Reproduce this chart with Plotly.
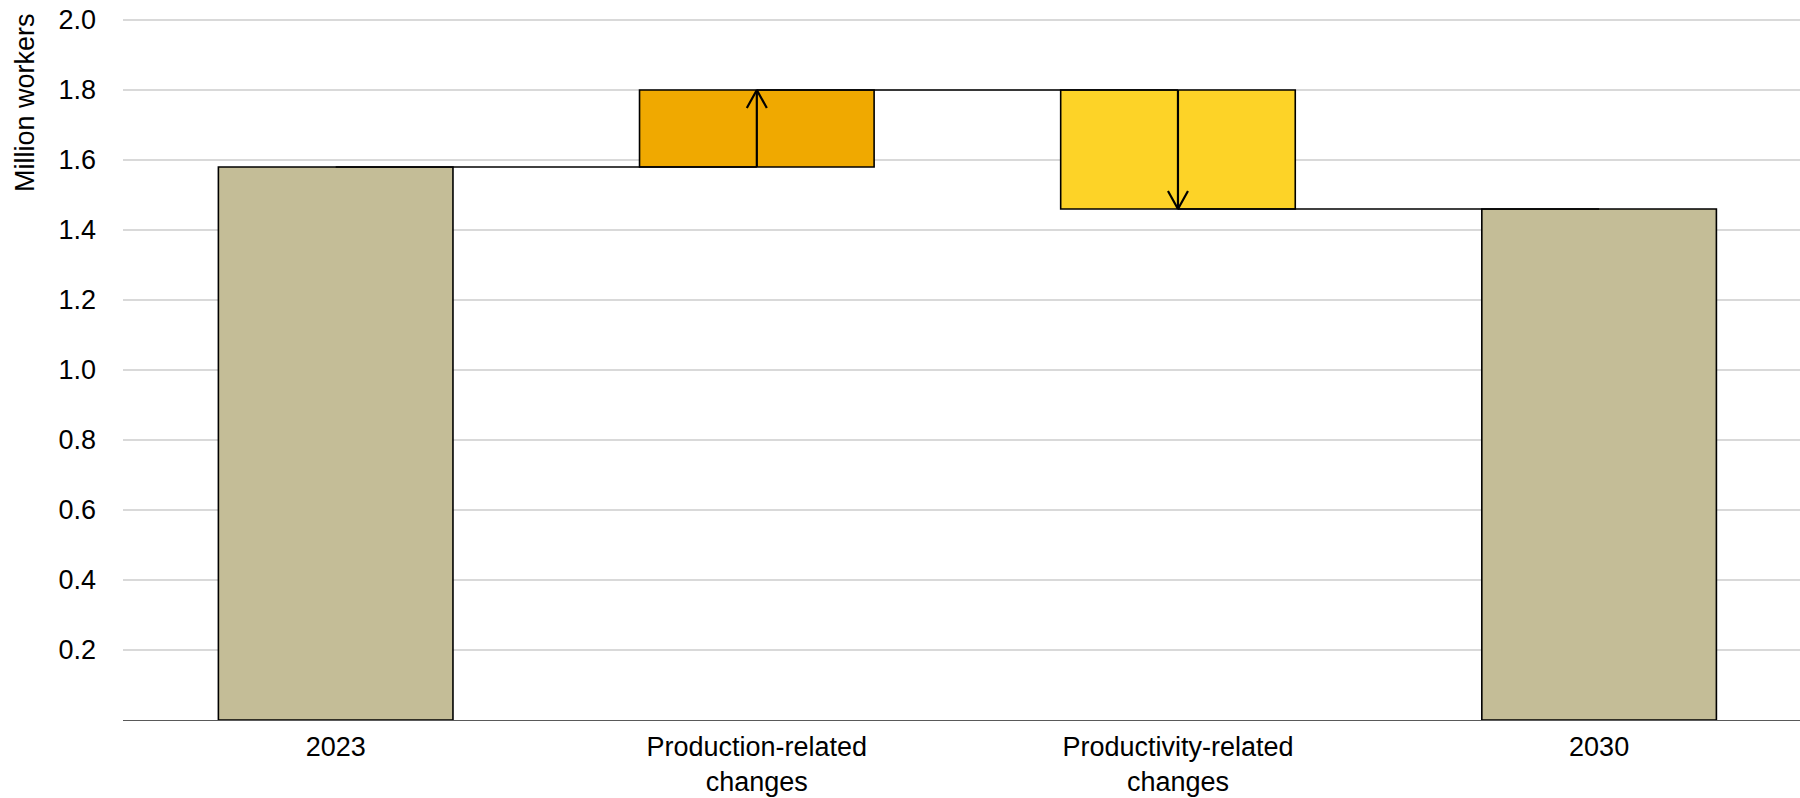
import plotly.graph_objects as go

# ---- data ----
categories = ["2023", "Production-related<br>changes", "Productivity-related<br>changes", "2030"]
measures = ["absolute", "relative", "relative", "total"]
values = [1.58, 0.22, -0.34, 1.46]
bar_colors = ["#C4BD97", "#F0A900", "#FDD327", "#C4BD97"]
y_tick_values = [0.2, 0.4, 0.6, 0.8, 1.0, 1.2, 1.4, 1.6, 1.8, 2.0]
y_tick_labels = ["0.2", "0.4", "0.6", "0.8", "1.0", "1.2", "1.4", "1.6", "1.8", "2.0"]
y_title = "Million workers"

# ---- layout constants (body margin removed by post_script) ----
W, H = 1800, 798
M_L, M_R, M_T, M_B = 123, 0, 17, 78
X_RANGE = [-0.505, 3.477]
Y_RANGE = [0, 2.0 + 3 / 350]
FONT = "Liberation Sans, Arial, sans-serif"
FS = 27
BAR_WIDTH = 0.557

plot_w = W - M_L - M_R
plot_h = H - M_T - M_B
px_per_x = plot_w / (X_RANGE[1] - X_RANGE[0])
px_per_y = plot_h / (Y_RANGE[1] - Y_RANGE[0])
head_hw = 10 / px_per_x
head_h = 18 / px_per_y

# ---- compute floating bars ----
bases, heights, levels_after, levels_before = [], [], [], []
level = 0.0
for m, v in zip(measures, values):
    levels_before.append(level)
    if m in ("absolute", "total"):
        bases.append(0.0)
        heights.append(v)
        level = v
    else:
        bases.append(min(level, level + v))
        heights.append(abs(v))
        level = level + v
    levels_after.append(level)

xs = list(range(len(categories)))

fig = go.Figure()
fig.add_trace(go.Bar(
    x=xs, y=heights, base=bases, width=BAR_WIDTH,
    marker=dict(color=bar_colors, line=dict(color="black", width=1.6)),
    hoverinfo="skip", showlegend=False,
))

# connectors (center to center)
for i in range(len(xs) - 1):
    fig.add_trace(go.Scatter(
        x=[xs[i], xs[i + 1]], y=[levels_after[i], levels_after[i]],
        mode="lines", line=dict(color="black", width=1.6),
        hoverinfo="skip", showlegend=False,
    ))

# arrows in the relative bars
for i, m in enumerate(measures):
    if m != "relative":
        continue
    y0, y1 = levels_before[i], levels_after[i]
    d = 1 if y1 > y0 else -1
    fig.add_trace(go.Scatter(
        x=[xs[i], xs[i]], y=[y0, y1],
        mode="lines", line=dict(color="black", width=2.2),
        hoverinfo="skip", showlegend=False,
    ))
    fig.add_trace(go.Scatter(
        x=[xs[i] - head_hw, xs[i], xs[i] + head_hw],
        y=[y1 - d * head_h, y1, y1 - d * head_h],
        mode="lines", line=dict(color="black", width=2.2),
        hoverinfo="skip", showlegend=False,
    ))

# y-axis title, centred at page (25.5, 102.5)
fig.add_annotation(
    text=y_title, textangle=-90, showarrow=False,
    xref="paper", yref="paper",
    x=(25.5 - M_L) / plot_w, xanchor="center",
    y=1 - (102.5 - M_T) / plot_h, yanchor="middle",
    font=dict(family=FONT, size=FS, color="black"),
)

fig.update_layout(
    template="none",
    width=W, height=H,
    margin=dict(l=M_L, r=M_R, t=M_T, b=M_B, pad=0, autoexpand=False),
    plot_bgcolor="white", paper_bgcolor="white",
    font=dict(family=FONT, size=FS, color="black"),
    bargap=0,
    hovermode=False,
    xaxis=dict(
        range=X_RANGE, tickvals=xs, ticktext=categories,
        showgrid=False, zeroline=False, automargin=False,
        showline=True, linecolor="#595959", linewidth=1.3,
        ticks="", ticklabelstandoff=2, ticklabeloverflow="allow",
        tickfont=dict(family=FONT, size=FS, color="black"),
    ),
    yaxis=dict(
        range=Y_RANGE, tickvals=y_tick_values, ticktext=y_tick_labels,
        showgrid=True, gridcolor="#D9D9D9", gridwidth=1.5,
        zeroline=False, showline=False, automargin=False,
        ticks="", ticklabelstandoff=26, ticklabeloverflow="allow",
        tickfont=dict(family=FONT, size=FS, color="black"),
    ),
)

fig.write_html(
    "out.html",
    config={"displayModeBar": False, "staticPlot": True},
    post_script="document.body.style.margin='0';document.body.style.overflow='hidden';",
)
